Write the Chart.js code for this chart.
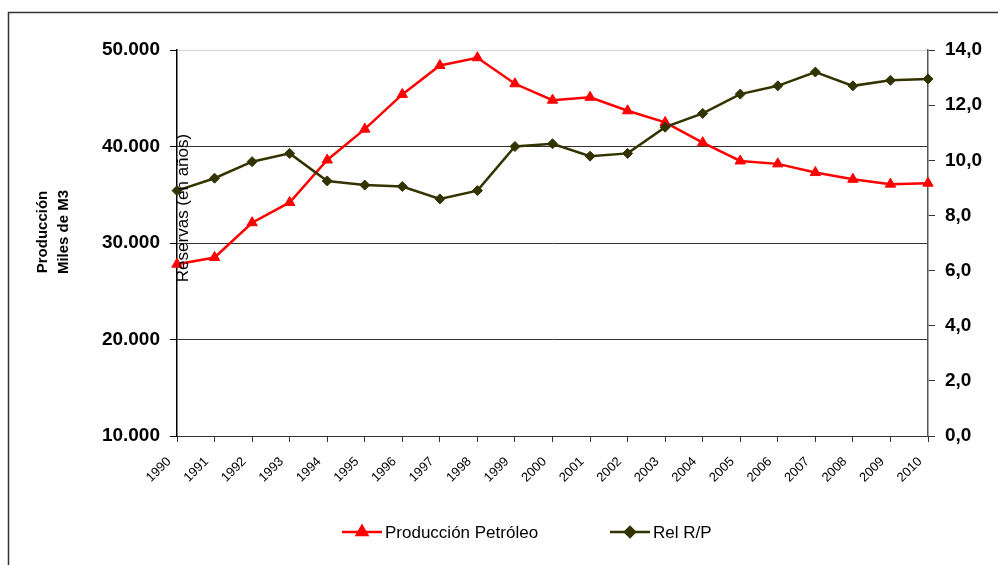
<!DOCTYPE html>
<html>
<head>
<meta charset="utf-8">
<script src="https://cdn.jsdelivr.net/npm/chart.js@4/dist/chart.umd.min.js"></script>
<style>
  body { margin: 0; background: #fff; }
  canvas { display: block; }
</style>
</head>
<body>
<canvas id="mycanvas" width="998" height="565"></canvas>
<script>
const years = ['1990', '1991', '1992', '1993', '1994', '1995', '1996', '1997', '1998', '1999', '2000',
    '2001', '2002', '2003', '2004', '2005', '2006', '2007', '2008', '2009', '2010'];
const produccion = [27800, 28500, 32100, 34200, 38600, 41800, 45400, 48400, 49200, 46500, 44800,
    45100, 43700, 42500, 40400, 38500, 38200, 37300, 36600, 36100, 36200];
const relRP = [8.9, 9.35, 9.95, 10.25, 9.25, 9.1, 9.05, 8.6, 8.9, 10.5, 10.6,
    10.15, 10.25, 11.2, 11.7, 12.4, 12.7, 13.2, 12.7, 12.9, 12.95];

const FONT = "'Liberation Sans', Arial, sans-serif";
const RED = '#ff0000';
const OLIVE = '#333300';

// frame, axis titles and legend are drawn by hand
const extras = {
    id: 'extras',
    beforeDraw(chart) {
        const ctx = chart.ctx;
        ctx.save();
        ctx.strokeStyle = '#333';
        ctx.lineWidth = 1.5;
        ctx.beginPath();
        ctx.moveTo(8.5, 565);
        ctx.lineTo(8.5, 12.5);
        ctx.lineTo(998, 12.5);
        ctx.stroke();
        ctx.restore();
    },
    afterDraw(chart) {
        const ctx = chart.ctx;
        ctx.save();
        ctx.fillStyle = '#000';
        ctx.textAlign = 'center';
        ctx.textBaseline = 'middle';

        ctx.save();
        ctx.translate(43, 232);
        ctx.rotate(-Math.PI / 2);
        ctx.font = 'bold 15px ' + FONT;
        ctx.fillText('Producción', 0, 0);
        ctx.fillText('Miles de M3', 0, 21);
        ctx.restore();

        ctx.save();
        ctx.translate(183, 208);
        ctx.rotate(-Math.PI / 2);
        ctx.font = '17px ' + FONT;
        ctx.fillText('Reservas (en años)', 0, 0);
        ctx.restore();

        // legend
        const ly = 532;
        const items = [
            { x: 342, text: 'Producción Petróleo', color: RED, style: 'triangle', r: 6 },
            { x: 610, text: 'Rel R/P', color: OLIVE, style: 'rectRot', r: 5 }
        ];
        ctx.font = '17px ' + FONT;
        ctx.textAlign = 'left';
        items.forEach(it => {
            ctx.strokeStyle = it.color;
            ctx.lineWidth = 2.5;
            ctx.beginPath();
            ctx.moveTo(it.x, ly);
            ctx.lineTo(it.x + 40, ly);
            ctx.stroke();
            ctx.fillStyle = it.color;
            Chart.helpers.drawPoint(ctx, { pointStyle: it.style, radius: it.r, borderWidth: 1 }, it.x + 20, ly);
            ctx.fillStyle = '#000';
            ctx.fillText(it.text, it.x + 43, ly + 1);
        });
        ctx.restore();
    }
};

const mycanvas = document.getElementById('mycanvas').getContext('2d');
const chart = new Chart(mycanvas, {
    type: 'line',
    data: {
        labels: years,
        datasets: [
            {
                label: 'Producción Petróleo',
                data: produccion,
                yAxisID: 'y',
                borderColor: RED,
                backgroundColor: RED,
                borderWidth: 2.5,
                pointStyle: 'triangle',
                pointRadius: 6,
                pointBorderWidth: 1,
                tension: 0,
                clip: false,
                order: 2
            },
            {
                label: 'Rel R/P',
                data: relRP,
                yAxisID: 'y1',
                borderColor: OLIVE,
                backgroundColor: OLIVE,
                borderWidth: 2.5,
                pointStyle: 'rectRot',
                pointRadius: 5,
                pointBorderWidth: 1,
                tension: 0,
                clip: false,
                order: 1
            }
        ]
    },
    options: {
        responsive: false,
        animation: false,
        events: [],
        layout: { padding: { top: 50, left: 0, right: 0, bottom: 0 } },
        plugins: {
            legend: { display: false },
            tooltip: { enabled: false }
        },
        scales: {
            x: {
                offset: false,
                grid: {
                    drawOnChartArea: false,
                    tickLength: 6,
                    tickColor: '#333'
                },
                border: { color: '#333', width: 1 },
                ticks: {
                    color: '#000',
                    maxRotation: 45,
                    minRotation: 45,
                    padding: 12,
                    labelOffset: -8,
                    autoSkip: false,
                    font: { family: FONT, size: 13 }
                },
                afterFit: (s) => { s.height = 129; }
            },
            y: {
                position: 'left',
                min: 10000,
                max: 50000,
                grid: {
                    color: (c) => c.tick.value === 50000 ? '#d4d4d4' : '#333',
                    tickColor: '#000',
                    tickLength: 7
                },
                border: { color: '#000', width: 1.5 },
                ticks: {
                    stepSize: 10000,
                    color: '#000',
                    padding: 10,
                    font: { family: FONT, size: 19, weight: 'bold' },
                    callback: (v) => v.toLocaleString('de-DE')
                },
                afterFit: (s) => { s.width = 177; }
            },
            y1: {
                position: 'right',
                min: 0,
                max: 14,
                grid: {
                    drawOnChartArea: false,
                    tickColor: '#333',
                    tickLength: 7
                },
                border: { color: '#555', width: 1.5 },
                ticks: {
                    stepSize: 2,
                    color: '#000',
                    padding: 10,
                    font: { family: FONT, size: 19, weight: 'bold' },
                    callback: (v) => v.toFixed(1).replace('.', ',')
                },
                afterFit: (s) => { s.width = 70; }
            }
        }
    },
    plugins: [extras]
});
</script>
</body>
</html>
